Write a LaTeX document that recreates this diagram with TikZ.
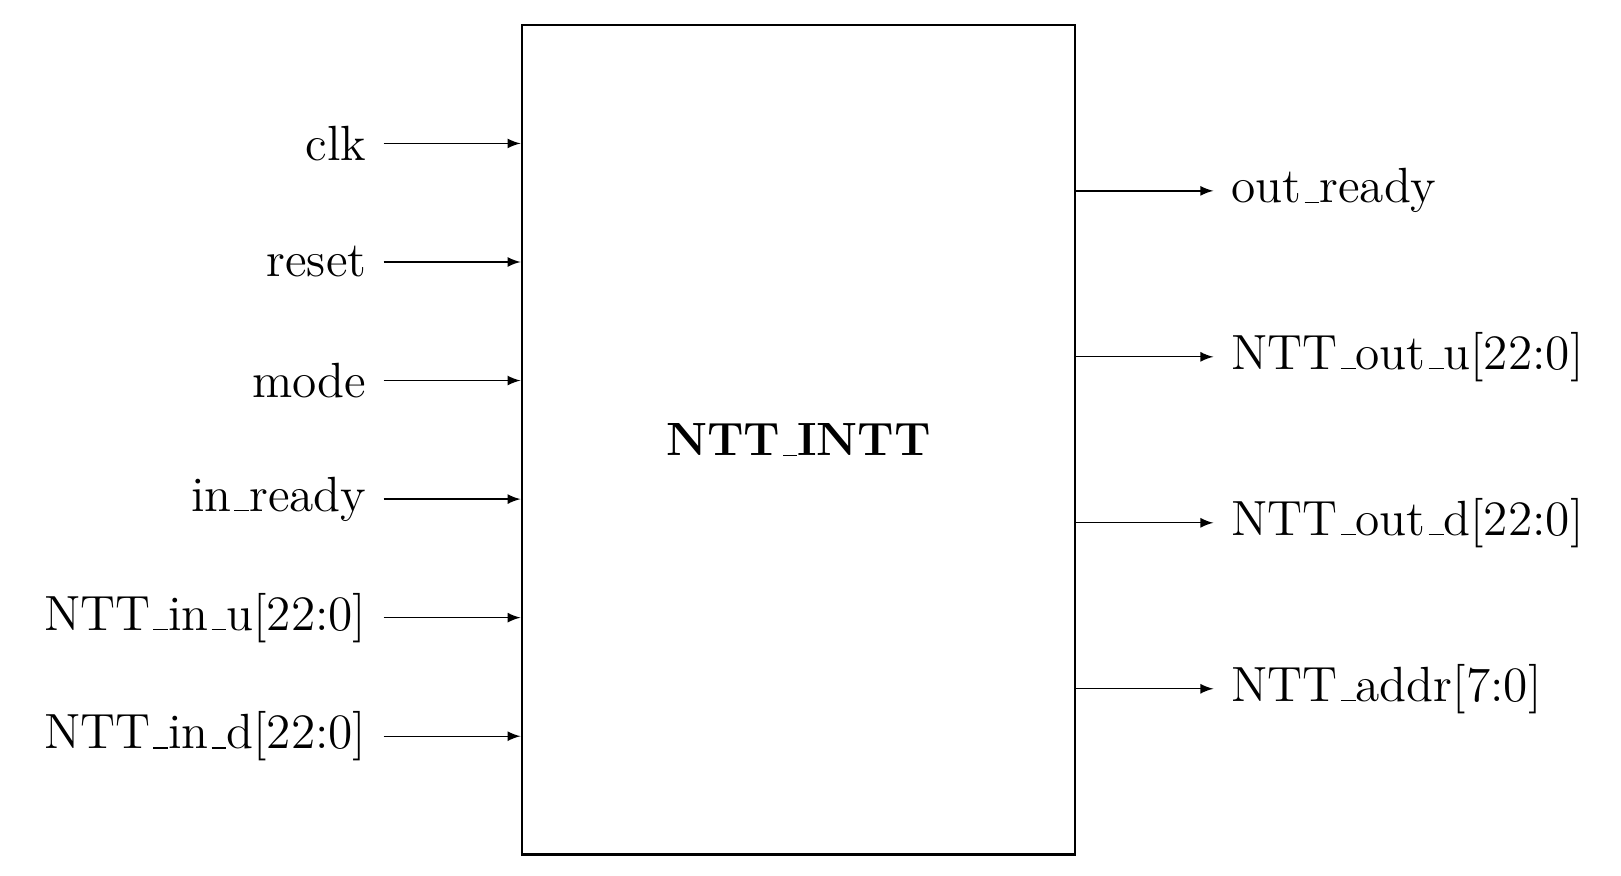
\documentclass[tikz,border=0pt]{standalone}
\usepackage{amsmath,amssymb,amsfonts}
\usepackage{xcolor}
\usepackage{tikz}

% short low underscore
\newcommand{\usc}{\leavevmode\kern.06em\vbox{\hrule width.3em}}

\begin{document}
\begin{tikzpicture}[font=\Large, >=latex,
    block/.style = {draw, thick, minimum width=6cm, minimum height=9cm, inner sep=0pt},
    inport/.style = {anchor=east, inner xsep=4.8pt, scale=1.06, transform shape},
    outport/.style = {anchor=west, inner xsep=5.1pt, scale=1.06, transform shape}]
    \useasboundingbox (-5.66,-0.23) rectangle (11.92,9.27);
        \node[block] (ntt) at (3,4.5) {\textbf{NTT\usc INTT}};
        % inputs
        \node[inport] (clk) at (-1.5,{9-9/7}) {clk};
        \node[inport] (reset) at (-1.5,{9-2*9/7}) {reset};
        \node[inport] (mode) at (-1.5,{9-3*9/7}) {mode};
        \node[inport] (inready) at (-1.5,{9-4*9/7}) {in\usc ready};
        \node[inport] (inu) at (-1.5,{9-5*9/7}) {NTT\usc in\usc u[22:0]};
        \node[inport] (ind) at (-1.5,{9-6*9/7}) {NTT\usc in\usc d[22:0]};
        \draw[->] (clk.east) -- (clk.east -| ntt.west);
        \draw[->] (reset.east) -- (reset.east -| ntt.west);
        \draw[->] (mode.east) -- (mode.east -| ntt.west);
        \draw[->] (inready.east) -- (inready.east -| ntt.west);
        \draw[->] (inu.east) -- (inu.east -| ntt.west);
        \draw[->] (ind.east) -- (ind.east -| ntt.west);
        % outputs
        \node[outport] (outready) at (7.5,7.2) {out\usc ready};
        \node[outport] (outu) at (7.5,5.4) {NTT\usc out\usc u[22:0]};
        \node[outport] (outd) at (7.5,3.6) {NTT\usc out\usc d[22:0]};
        \node[outport] (addr) at (7.5,1.8) {NTT\usc addr[7:0]};
        \draw[->] (outready.west -| ntt.east) -- (outready.west);
        \draw[->] (outu.west -| ntt.east) -- (outu.west);
        \draw[->] (outd.west -| ntt.east) -- (outd.west);
        \draw[->] (addr.west -| ntt.east) -- (addr.west);
    \end{tikzpicture}
\end{document}
